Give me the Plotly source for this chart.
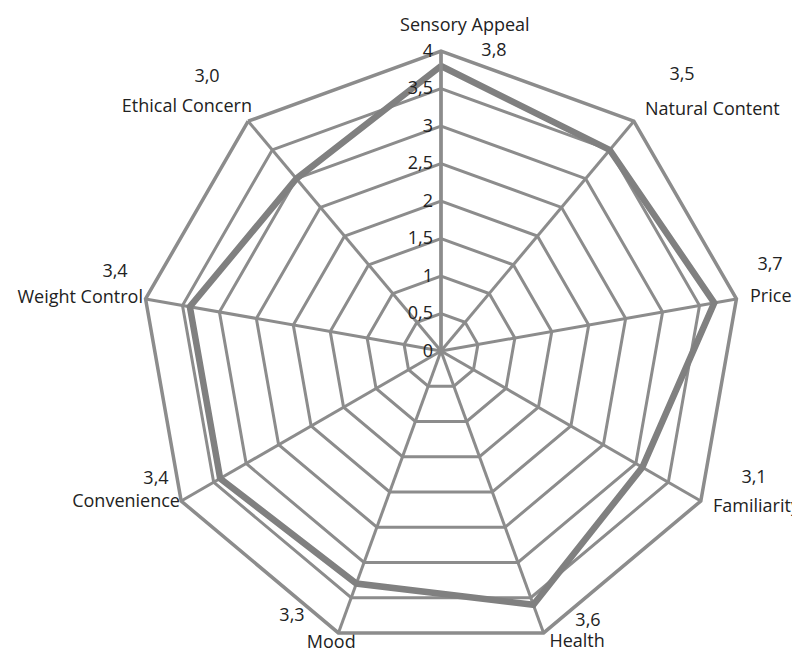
import math
import plotly.graph_objects as go

categories = ["Sensory Appeal", "Natural Content", "Price", "Familiarity", "Health",
              "Mood", "Convenience", "Weight Control", "Ethical Concern"]
values = [3.8, 3.5, 3.7, 3.1, 3.6, 3.3, 3.4, 3.4, 3.0]
value_labels = ["3,8", "3,5", "3,7", "3,1", "3,6", "3,3", "3,4", "3,4", "3,0"]
radial_ticks = [0, 0.5, 1, 1.5, 2, 2.5, 3, 3.5, 4]

# label placement (styling only; radius in radial-axis units, angle in degrees clockwise from top)
cat_r = [4.345, 4.2, 4.183, 4.181, 4.295, 4.16, 4.027, 4.036, 4.115]
cat_theta = [4.2, 40.36, 80.09, 119.84, 155.0, 200.6, 239.8, 280.08, 322.24]
cat_pos = ["middle center", "middle right", "middle right", "middle right", "middle center",
           "middle center", "middle left", "middle left", "middle left"]
val_r = [4.049, 4.876, 4.531, 4.509, 4.099, 4.054, 4.166, 4.469, 4.804]
val_theta = [10.05, 41.23, 75.51, 112.24, 151.44, 209.35, 245.81, 283.46, 319.5]

R_MAX = 4.0
W, H = 792, 644  # visible area of the page (body margin takes the rest)
CX, CY, RAD = 433, 343, 300  # polar centre / radius in figure px (layout)
U = RAD / R_MAX  # px per radial unit

GRID = "#8c8c8c"
LINE = "#808080"
FONT = dict(family="Open Sans", size=18, color="#222222")


def to_xy(rs, thetas):
    xs = [r * math.sin(math.radians(t)) for r, t in zip(rs, thetas)]
    ys = [r * math.cos(math.radians(t)) for r, t in zip(rs, thetas)]
    return xs, ys


fig = go.Figure()
fig.add_trace(go.Scatterpolar(
    r=values + values[:1], theta=categories + categories[:1],
    mode="lines", line=dict(color=LINE, width=6.5), subplot="polar",
    showlegend=False, hoverinfo="skip"))

cx, cy = to_xy(cat_r, cat_theta)
fig.add_trace(go.Scatter(
    x=cx, y=cy, mode="text", text=categories, textposition=cat_pos, textfont=FONT,
    showlegend=False, hoverinfo="skip", cliponaxis=False))
vx, vy = to_xy(val_r, val_theta)
fig.add_trace(go.Scatter(
    x=vx, y=vy, mode="text", text=value_labels, textposition="middle center", textfont=FONT,
    showlegend=False, hoverinfo="skip", cliponaxis=False))

dom = dict(x=[(CX - RAD) / W, (CX + RAD) / W], y=[(H - CY - RAD) / H, (H - CY + RAD) / H])
fig.update_layout(
    width=W, height=H, margin=dict(l=0, r=0, t=0, b=0),
    paper_bgcolor="white", plot_bgcolor="rgba(0,0,0,0)", separators=", ",
    font=FONT, showlegend=False,
    xaxis=dict(range=[-CX / U, (W - CX) / U], domain=[0, 1], visible=False, fixedrange=True),
    yaxis=dict(range=[-(H - CY) / U, CY / U], domain=[0, 1], visible=False, fixedrange=True),
    polar=dict(
        domain=dom, bgcolor="rgba(0,0,0,0)", gridshape="linear",
        radialaxis=dict(range=[0, R_MAX], tickvals=radial_ticks, angle=90, tickangle=90,
                        side="counterclockwise", showline=True, linecolor=GRID, linewidth=3.5,
                        gridcolor=GRID, gridwidth=2.5, ticks="", tickfont=FONT),
        angularaxis=dict(rotation=90, direction="clockwise", showline=True,
                         linecolor=GRID, linewidth=3.5, gridcolor=GRID, gridwidth=2.5,
                         showticklabels=False, ticks="")),
)
fig.write_html("out.html")
